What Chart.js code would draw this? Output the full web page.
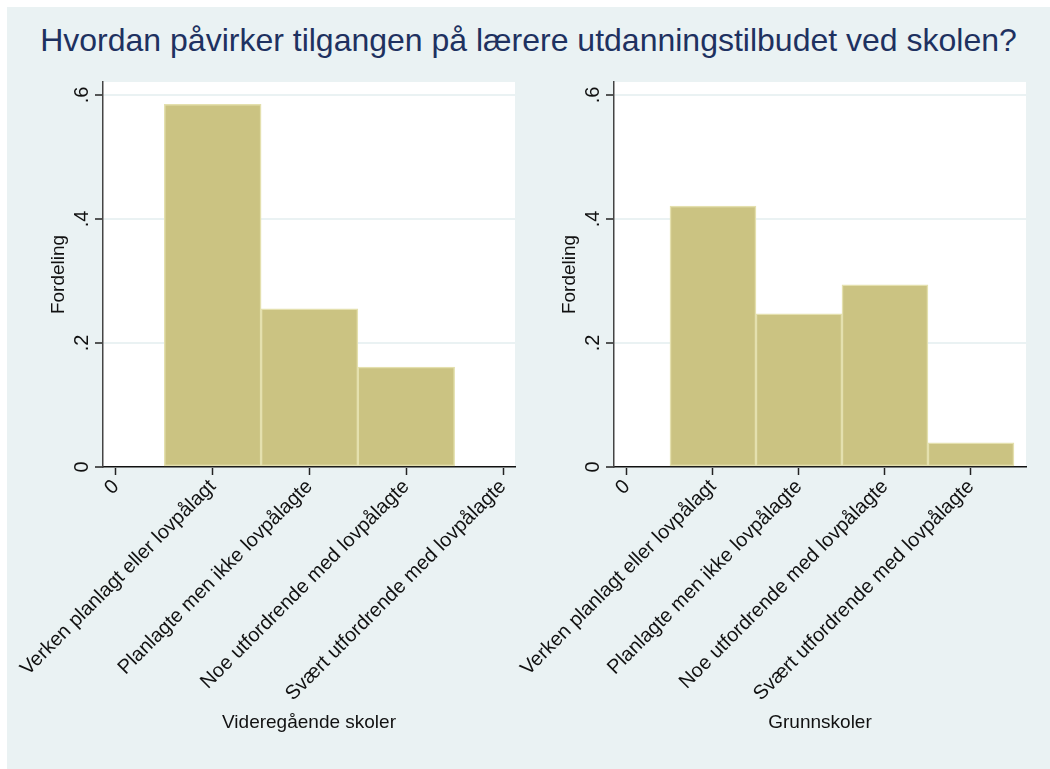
<!DOCTYPE html>
<html>
<head>
<meta charset="utf-8">
<script src="https://cdn.jsdelivr.net/npm/chart.js@4.4.0/dist/chart.umd.min.js"></script>
<style>
  body { margin: 0; background: #fff; font-family: "Liberation Sans", Arial, sans-serif; }
  #bg { position: absolute; left: 7px; top: 7px; width: 1043px; height: 762px; background: #eaf2f3; }
  #title { position: absolute; left: 7px; top: 24px; width: 1043px; text-align: center;
           font-size: 32px; line-height: 32px; color: #1e3160; }
  canvas { position: absolute; left: 0; top: 0; }
</style>
</head>
<body>
<div id="bg"></div>
<div id="title">Hvordan påvirker tilgangen på lærere utdanningstilbudet ved skolen?</div>
<canvas id="vgs" width="1050" height="769"></canvas>
<canvas id="grs" width="1050" height="769"></canvas>
<script>
const tickLabels = ["0", "Verken planlagt eller lovpålagt", "Planlagte men ikke lovpålagte",
  "Noe utfordrende med lovpålagte", "Svært utfordrende med lovpålagte"];
const xTicks = [0, 1, 2, 3, 4];
const bins = [1, 2, 3, 4];
const videregaende = [0.585, 0.255, 0.161, 0];
const grunnskoler = [0.421, 0.247, 0.294, 0.039];
const yTicks = [0, 0.2, 0.4, 0.6];

const font = { family: "'Liberation Sans', Arial, sans-serif", size: 19 };
const tickFont = { family: "'Liberation Sans', Arial, sans-serif", size: 20 };

// white plot region behind the bars
const plotBg = {
  id: 'plotBg',
  beforeDraw(chart) {
    const a = chart.chartArea, c = chart.ctx;
    c.save();
    c.fillStyle = '#ffffff';
    c.fillRect(a.left, a.top, a.right - a.left, a.bottom - a.top);
    c.restore();
  }
};

function makeChart(id, values, xTitle, padLeft, padRight, xMin, xMax) {
  return new Chart(document.getElementById(id), {
    type: 'bar',
    data: {
      datasets: [{
        data: bins.map((b, i) => ({ x: b, y: values[i] })),
        backgroundColor: '#cbc382',
        borderColor: '#e4e0ae',
        borderWidth: 1.5,
        borderSkipped: false,
        barPercentage: 1,
        categoryPercentage: 1
      }]
    },
    options: {
      responsive: false,
      animation: false,
      events: [],
      layout: { autoPadding: false, padding: { top: 82, bottom: 31, left: padLeft, right: padRight } },
      plugins: { legend: { display: false }, tooltip: { enabled: false } },
      scales: {
        x: {
          type: 'linear',
          offset: false,
          min: xMin, max: xMax,
          afterBuildTicks: s => { s.ticks = xTicks.map(v => ({ value: v })); },
          afterFit: s => { s.height = 271; },
          grid: { offset: false, drawOnChartArea: false, tickLength: 8, tickColor: '#222', tickWidth: 1.5 },
          border: { color: '#111', width: 1.5 },
          ticks: {
            autoSkip: false, minRotation: 45, maxRotation: 45, padding: 0,
            color: '#111', font: tickFont,
            callback: v => tickLabels[v]
          },
          title: { display: true, text: xTitle, color: '#111', font: font }
        },
        y: {
          min: 0, max: 0.621,
          afterBuildTicks: s => { s.ticks = yTicks.map(v => ({ value: v })); },
          afterFit: s => { s.width = 60; },
          grid: { color: '#eaf2f3', lineWidth: 2, tickLength: 8, tickColor: '#222', tickWidth: 1.5 },
          border: { color: '#444', width: 1.5 },
          ticks: {
            minRotation: 90, maxRotation: 90, crossAlign: 'center', padding: 4,
            color: '#111', font: tickFont,
            callback: v => v === 0 ? '0' : String(Math.round(v * 10) / 10).replace(/^0/, '')
          },
          title: { display: true, text: 'Fordeling', color: '#111', font: font }
        }
      }
    },
    plugins: [plotBg]
  });
}

makeChart('vgs', videregaende, 'Videregående skoler', 43, 1050 - 515, -0.134, 4.124);
makeChart('grs', grunnskoler, 'Grunnskoler', 43 + 511, 1050 - 1026, -0.151, 4.64);
</script>
</body>
</html>
